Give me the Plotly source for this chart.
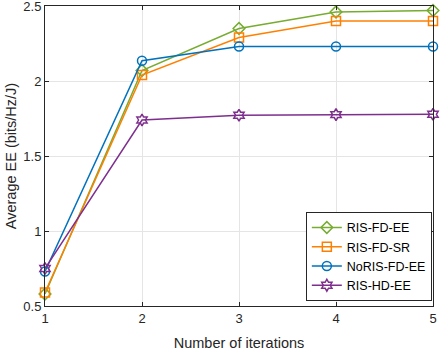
import plotly.graph_objects as go

iterations = [1, 2, 3, 4, 5]
ris_fd_ee = [0.58, 2.07, 2.35, 2.46, 2.47]
ris_fd_sr = [0.59, 2.04, 2.29, 2.40, 2.40]
noris_fd_ee = [0.73, 2.135, 2.23, 2.23, 2.23]
ris_hd_ee = [0.75, 1.74, 1.772, 1.776, 1.778]

series = [
    ("RIS-FD-EE", ris_fd_ee, "#77AC30", "diamond-open"),
    ("RIS-FD-SR", ris_fd_sr, "#FF8000", "square-open"),
    ("NoRIS-FD-EE", noris_fd_ee, "#0072BD", "circle-open"),
    ("RIS-HD-EE", ris_hd_ee, "#7E2F8E", "hexagram-open"),
]

fig = go.Figure()
for name, vals, color, sym in series:
    fig.add_trace(
        go.Scatter(
            x=iterations,
            y=vals,
            mode="lines+markers",
            name=name,
            cliponaxis=False,
            line=dict(color=color, width=1.5),
            marker=dict(symbol=sym, size=9, color=color, line=dict(width=1.5, color=color)),
        )
    )

axis_style = dict(
    showline=True,
    linecolor="#262626",
    linewidth=1,
    mirror="ticks",
    ticks="inside",
    ticklen=4,
    tickcolor="#262626",
    showgrid=True,
    gridcolor="#E5E5E5",
    gridwidth=1,
    zeroline=False,
    automargin=False,
    ticklabeloverflow="allow",
    tickfont=dict(size=13, color="#262626"),
)

fig.update_layout(
    width=440,
    height=352,
    paper_bgcolor="white",
    plot_bgcolor="white",
    font=dict(family="Liberation Sans, Arial, sans-serif", size=13, color="#262626"),
    margin=dict(l=45, r=7, t=6, b=46),
    showlegend=True,
    legend=dict(
        x=0.997,
        y=0.017,
        xanchor="right",
        yanchor="bottom",
        bgcolor="white",
        bordercolor="#262626",
        borderwidth=1,
        font=dict(size=12.5, color="black"),
        tracegroupgap=0,
        itemwidth=30,
    ),
)

fig.update_xaxes(
    axis_style,
    range=[1, 5],
    tickvals=[1, 2, 3, 4, 5],
    title=dict(text="Number of iterations", font=dict(size=14.5, color="#262626"), standoff=13),
)
fig.update_yaxes(
    axis_style,
    range=[0.5, 2.5],
    tickvals=[0.5, 1, 1.5, 2, 2.5],
    title=dict(text="Average EE (bits/Hz/J)", font=dict(size=14.5, color="#262626"), standoff=3),
)

# drop the default 8px body margin so the figure sits at the window's corner
fig.write_html(
    "out.html",
    config={"displayModeBar": False},
    post_script="document.body.style.margin='0';",
)
